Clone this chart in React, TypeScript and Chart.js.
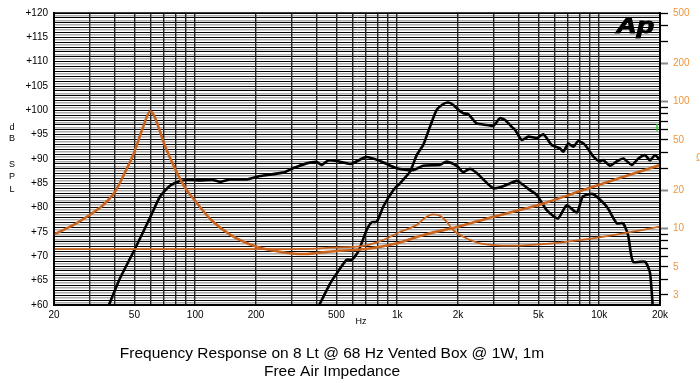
import { useEffect, useRef } from 'react';
import { Chart, registerables } from 'chart.js';

Chart.register(...registerables);

const FONT = '"Liberation Sans", Arial, Helvetica, sans-serif';

// ---- Axis definitions ----
const xGridValues = [
  20, 30, 40, 50, 60, 70, 80, 90,
  100, 200, 300, 400, 500, 600, 700, 800, 900,
  1000, 2000, 3000, 4000, 5000, 6000, 7000, 8000, 9000,
  10000, 20000,
];
const xLabelValues = [20, 50, 100, 200, 500, 1000, 2000, 5000, 10000, 20000];
const xLabelTexts = ['20', '50', '100', '200', '500', '1k', '2k', '5k', '10k', '20k'];

const dbMin = 60;
const dbMax = 120;
const dbLabelStep = 5;

const ohmTickValues = [3, 4, 5, 6, 7, 8, 9, 10, 20, 30, 40, 50, 60, 70, 80, 90, 100, 200, 300, 400, 500];
const ohmLabelValues = [3, 5, 10, 20, 50, 100, 200, 500];
const ohmLongTicks = [10, 20, 100, 200];

// ---- Woofer SPL (black) ----
const wooferSplFreq = [
  37, 42, 50, 60, 67, 75, 84, 94, 106, 122, 133, 149, 180, 209, 272, 305, 356, 399, 423, 456,
  500, 590, 701, 822, 994, 1198, 1342, 1630, 1758, 1972, 2118, 2293, 2476, 2980, 3292, 3906,
  4196, 4544, 4908, 5498, 6254, 6906, 7740, 8314, 9318, 10898, 12216, 13120, 13894, 14700,
  16860, 17840, 18460,
];
const wooferSplDb = [
  59.5, 65.1, 71.3, 78.1, 82.3, 84.5, 85.5, 85.7, 85.6, 85.7, 85.3, 85.8, 85.8, 86.5, 87.2, 88.1, 89.1, 89.4, 88.8, 89.7,
  89.6, 89.0, 90.4, 89.6, 88.1, 87.7, 88.6, 88.8, 89.5, 88.6, 87.3, 88.0, 87.1, 84.0, 84.3, 85.5,
  84.7, 83.6, 82.6, 79.5, 77.8, 80.5, 79.0, 82.3, 82.8, 80.2, 76.8, 76.8, 74.4, 68.9,
  68.9, 66.6, 59.0,
];

// ---- Compression driver SPL (black) ----
const driverSplFreq = [
  400, 464, 502, 562, 596, 642, 706, 748, 792, 853, 956, 1032, 1157, 1249, 1346, 1452, 1569, 1692,
  1791, 1896, 2007, 2124, 2250, 2476, 2774, 2992, 3228, 3418, 3690, 3830, 4134, 4456, 4908, 5288,
  5820, 6398, 6640, 7034, 7448, 7880, 8508, 9360, 10092, 10474, 11304, 12216, 13160, 14488, 15626,
  16860, 17840, 18890, 20000,
];
const driverSplDb = [
  59.0, 64.3, 66.5, 69.3, 69.3, 71.0, 75.4, 77.0, 77.1, 80.2, 83.6, 85.0, 87.4, 90.8, 92.9, 96.6, 100.1, 101.3,
  101.6, 101.1, 100.1, 99.4, 99.2, 97.3, 97.0, 96.8, 98.4, 98.0, 96.6, 96.0, 93.9, 94.6, 94.3, 95.1,
  92.9, 92.2, 91.5, 93.2, 92.5, 93.7, 92.9, 90.5, 89.5, 89.8, 88.6, 89.5, 90.1, 88.8, 90.1,
  90.8, 89.7, 90.8, 89.8,
];

// ---- Woofer free-air impedance (orange) ----
const wooferImpFreq = [
  20, 25, 30, 35, 40, 45, 50, 55, 60, 63, 70, 80, 90, 100, 120, 150, 200, 250, 300, 350, 400, 500,
  700, 1000, 1350, 2000, 3000, 3900, 5300, 8400, 13200, 20000,
];
const wooferImpOhm = [
  9.0, 10.7, 12.8, 15.3, 19.4, 27.9, 40.2, 62, 84, 75.8, 47.3, 28.9, 20.5, 16.5, 11.7, 8.9, 7.23, 6.66, 6.37, 6.31, 6.43, 6.66,
  6.9, 7.66, 8.9, 10.35, 12.4, 13.8, 15.8, 20.2, 25.6, 31.7,
];

// ---- Compression driver impedance (orange) ----
const driverImpFreq = [
  20, 100, 300, 400, 464, 680, 853, 1030, 1250, 1370, 1500, 1630, 1760, 1890, 2120, 2570, 3710,
  5480, 8020, 11700, 20000,
];
const driverImpOhm = [
  6.9, 6.9, 6.9, 6.95, 7.07, 7.3, 8.13, 9.4, 10.7, 12.1, 12.95, 12.6, 11.3, 9.75, 8.63, 7.66, 7.33,
  7.57, 8.13, 8.9, 10.35,
];

const titleLines = ['Frequency Response on 8 Lt @ 68 Hz Vented Box @ 1W, 1m', 'Free Air Impedance'];

const BLACK = '#000000';
const ORANGE = '#c9641f';
const ORANGE_LABEL = '#f0963c';

function pts(f: number[], v: number[]) {
  return f.map((x, i) => ({ x, y: v[i] }));
}

const decorPlugin = {
  id: 'decor',
  afterDraw(chart: any) {
    const ctx = chart.ctx as CanvasRenderingContext2D;
    const a = chart.chartArea;
    ctx.save();
    // frame
    ctx.strokeStyle = '#000';
    ctx.lineWidth = 1.5;
    ctx.strokeRect(a.left, a.top, a.right - a.left, a.bottom - a.top);

    // title
    ctx.fillStyle = '#000';
    ctx.textAlign = 'center';
    ctx.textBaseline = 'alphabetic';
    ctx.font = `15.5px ${FONT}`;
    ctx.fillText(titleLines[0], 332, 358);
    ctx.fillText(titleLines[1], 332, 376);

    // Hz
    ctx.font = `9px ${FONT}`;
    ctx.fillText('Hz', 361, 324);

    // dB SPL vertical letters
    const letters = ['d', 'B', '', 'S', 'P', 'L'];
    const baseY = [130, 141, 0, 167, 179, 192];
    ctx.font = `9px ${FONT}`;
    letters.forEach((l, i) => {
      if (l) ctx.fillText(l, 12, baseY[i]);
    });

    // Ohm symbol (right title)
    ctx.fillStyle = ORANGE_LABEL;
    ctx.textAlign = 'left';
    ctx.font = `10px ${FONT}`;
    ctx.fillText('Ω', 696, 161);

    // Ap logo
    ctx.fillStyle = '#000';
    ctx.font = `italic 900 22px ${FONT}`;
    ctx.translate(616, 33);
    ctx.scale(1.3, 1);
    ctx.fillText('Ap', 0, 0);
    ctx.lineWidth = 1;
    ctx.strokeStyle = '#000';
    ctx.strokeText('Ap', 0, 0);
    ctx.setTransform(1, 0, 0, 1, 0, 0);

    // green cursor mark
    ctx.strokeStyle = '#22cc22';
    ctx.lineWidth = 1.5;
    ctx.beginPath();
    ctx.moveTo(657, 124);
    ctx.lineTo(657, 131);
    ctx.stroke();
    ctx.restore();
  },
};

export default function App() {
  const ref = useRef<HTMLCanvasElement>(null);

  useEffect(() => {
    document.body.style.margin = '0';
    const canvas = ref.current!;
    const chart = new Chart(canvas, {
      type: 'line',
      data: {
        datasets: [
          {
            label: 'Woofer impedance',
            data: pts(wooferImpFreq, wooferImpOhm),
            xAxisID: 'x',
            yAxisID: 'yR',
            borderColor: ORANGE,
            borderWidth: 2.6,
            pointRadius: 0,
            cubicInterpolationMode: 'monotone',
            clip: 0,
          },
          {
            label: 'Driver impedance',
            data: pts(driverImpFreq, driverImpOhm),
            xAxisID: 'x',
            yAxisID: 'yR',
            borderColor: ORANGE,
            borderWidth: 1.8,
            pointRadius: 0,
            cubicInterpolationMode: 'monotone',
            clip: 0,
          },
          {
            label: 'Woofer SPL',
            data: pts(wooferSplFreq, wooferSplDb),
            xAxisID: 'x',
            yAxisID: 'y',
            borderColor: BLACK,
            borderWidth: 2.6,
            pointRadius: 0,
            tension: 0.2,
            clip: 0,
          },
          {
            label: 'Driver SPL',
            data: pts(driverSplFreq, driverSplDb),
            xAxisID: 'x',
            yAxisID: 'y',
            borderColor: BLACK,
            borderWidth: 2.6,
            pointRadius: 0,
            tension: 0.2,
            clip: 0,
          },
        ],
      } as any,
      options: {
        animation: false,
        responsive: false,
        devicePixelRatio: 1,
        layout: { padding: { top: 13, left: 0, right: 0, bottom: 0 } },
        plugins: {
          legend: { display: false },
          tooltip: { enabled: false },
          title: { display: false },
        },
        scales: {
          y: {
            type: 'linear',
            position: 'left',
            min: dbMin,
            max: dbMax,
            afterBuildTicks: (s: any) => {
              const t: { value: number }[] = [];
              for (let v = dbMin; v <= dbMax; v += 0.5) t.push({ value: v });
              s.ticks = t;
            },
            afterFit: (s: any) => {
              s.width = 54;
            },
            ticks: {
              autoSkip: false,
              padding: 6,
              color: '#000',
              font: { family: FONT, size: 10 },
              callback: (v: any) => {
                const n = Number(v);
                return Number.isInteger(n) && n % dbLabelStep === 0 ? '+' + n : '';
              },
            },
            grid: {
              drawTicks: false,
              color: (c: any) => (Number.isInteger(c.tick?.value) ? '#000' : '#acacac'),
              lineWidth: (c: any) => (Number.isInteger(c.tick?.value) ? 1 : 1.6),
            },
            border: { display: true, color: '#000', width: 2 },
          },
          yR: {
            type: 'logarithmic',
            position: 'right',
            min: 2.5,
            max: 500,
            afterBuildTicks: (s: any) => {
              s.ticks = ohmTickValues.map((v) => ({ value: v }));
            },
            afterFit: (s: any) => {
              s.width = 40;
            },
            ticks: {
              autoSkip: false,
              padding: 5,
              color: ORANGE_LABEL,
              font: { family: FONT, size: 10 },
              callback: (v: any) => (ohmLabelValues.includes(Number(v)) ? String(v) : ''),
            },
            grid: {
              drawOnChartArea: false,
              drawTicks: true,
              tickLength: 8,
              tickColor: (c: any) => (ohmLongTicks.includes(c.tick?.value) ? '#8a8a8a' : '#000'),
              tickWidth: (c: any) => (ohmLongTicks.includes(c.tick?.value) ? 2 : 1.3),
            },
            border: { display: true, color: '#000', width: 2 },
          },
          x: {
            type: 'logarithmic',
            position: 'bottom',
            min: 20,
            max: 20000,
            afterBuildTicks: (s: any) => {
              s.ticks = xGridValues.map((v) => ({ value: v }));
            },
            afterFit: (s: any) => {
              s.height = 78;
            },
            ticks: {
              autoSkip: false,
              maxRotation: 0,
              minRotation: 0,
              padding: 4,
              color: '#000',
              font: { family: FONT, size: 10 },
              callback: (v: any) => {
                const i = xLabelValues.indexOf(Number(v));
                return i >= 0 ? xLabelTexts[i] : '';
              },
            },
            grid: { color: '#262626', lineWidth: 1.4, drawTicks: false },
            border: { display: true, color: '#000', width: 2 },
          },
        },
      } as any,
      plugins: [decorPlugin],
    });
    return () => chart.destroy();
  }, []);

  return (
    <canvas
      ref={ref}
      width={700}
      height={383}
      style={{ display: 'block', width: 700, height: 383 }}
    />
  );
}
